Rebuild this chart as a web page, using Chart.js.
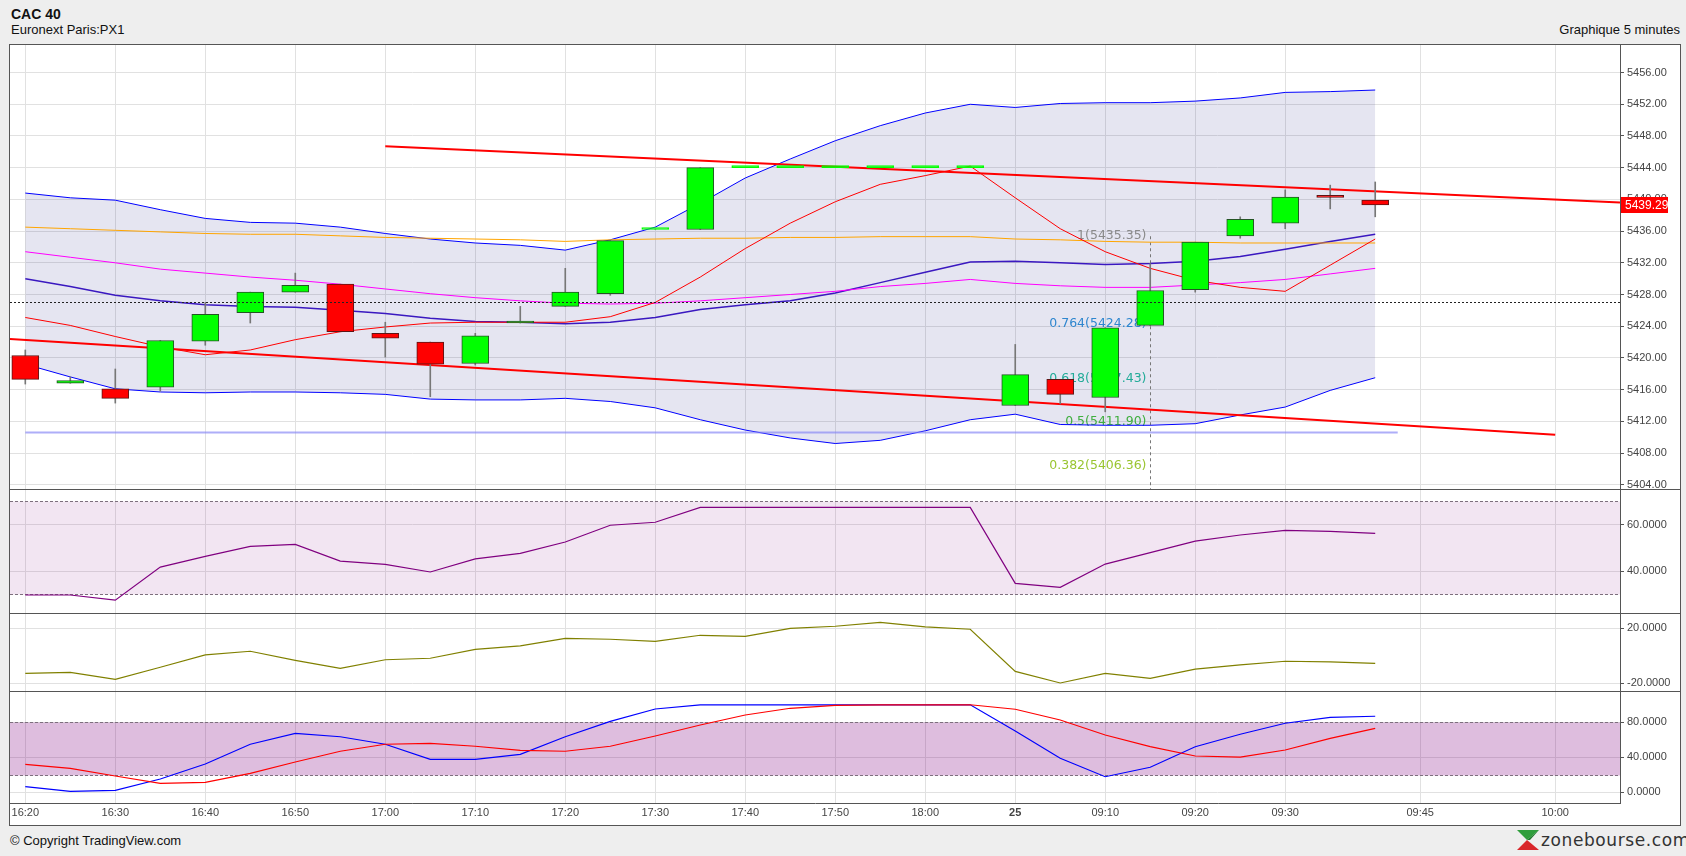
<!DOCTYPE html>
<html lang="fr">
<head>
<meta charset="utf-8">
<title>CAC 40 - Graphique 5 minutes</title>
<script src="https://cdn.jsdelivr.net/npm/chart.js@4.4.1/dist/chart.umd.min.js"></script>
<style>
  html, body { margin: 0; padding: 0; }
  body {
    width: 1686px; height: 856px; position: relative; overflow: hidden;
    background: #eeeeee; color: #111;
    font-family: "Liberation Sans", Arial, sans-serif;
  }
  .abs { position: absolute; }
  #title    { left: 11px; top: 6px;  font-size: 14px; font-weight: bold; }
  #exchange { left: 11px; top: 22px; font-size: 13px; }
  #period   { right: 6px; top: 22px; font-size: 13px; }
  #box { left: 9px; top: 44px; width: 1670px; height: 780px; border: 1px solid #555; background: #fff; }
  .sep { left: 10px; width: 1670px; height: 1px; background: #555; }
  canvas.pane { position: absolute; left: 10px; }
  #copy { left: 10px; top: 833px; font-size: 13px; }
  #logo { left: 1516px; top: 829px; display: flex; align-items: center; }
  #logo span { font-family: "DejaVu Sans", sans-serif; font-size: 17px; color: #333; letter-spacing: 0.6px; margin-left: 1px; }
</style>
</head>
<body>
<div class="abs" id="title">CAC 40</div>
<div class="abs" id="exchange">Euronext Paris:PX1</div>
<div class="abs" id="period">Graphique 5 minutes</div>

<div class="abs" id="box"></div>
<canvas class="pane" id="price" width="1670" height="444" style="top:45px"></canvas>
<div class="abs sep" style="top:489px"></div>
<canvas class="pane" id="rsi" width="1670" height="123" style="top:490px"></canvas>
<div class="abs sep" style="top:613px"></div>
<canvas class="pane" id="mom" width="1670" height="77" style="top:614px"></canvas>
<div class="abs sep" style="top:691px"></div>
<canvas class="pane" id="stoch" width="1670" height="133" style="top:692px"></canvas>

<div class="abs" id="copy">© Copyright TradingView.com</div>
<div class="abs" id="logo">
  <svg width="24" height="22" viewBox="0 0 24 22">
    <polygon points="1,1 23,1 11,11" fill="#2f9e3c"/>
    <polygon points="11,11 23,21 1,21" fill="#d9262b"/>
    <polygon points="23,1 11,11 14,11" fill="#1d7a2a"/>
  </svg>
  <span>zonebourse.com</span>
</div>

<script>
// ============================================================
// CAC 40 - 5 minute chart (price + RSI + momentum + stochastic)
// ============================================================

// ---------- X axis (bar index, 5 min per bar) ----------
const xTickIdx    = [0, 2, 4, 6, 8, 10, 12, 14, 16, 18, 20, 22, 24, 26, 28, 31, 34];
const xTickLabels = ["16:20", "16:30", "16:40", "16:50", "17:00", "17:10", "17:20", "17:30",
                     "17:40", "17:50", "18:00", "25", "09:10", "09:20", "09:30", "09:45", "10:00"];

// ---------- Candles ----------
const open  = [5420.3, 5416.8, 5416.1, 5416.3, 5422.1, 5425.7, 5428.3, 5429.3, 5423.1, 5422.0,
               5419.3, 5424.4, 5426.5, 5428.1, 5436.2, 5436.2, 5444.0, 5444.0, 5444.0, 5444.0,
               5444.0, 5444.0, 5414.0, 5417.3, 5415.0, 5424.1, 5428.6, 5435.4, 5437.0, 5440.5, 5439.9];
const close = [5417.3, 5417.15, 5414.9, 5422.2, 5425.5, 5428.3, 5429.15, 5423.3, 5422.5, 5419.2,
               5422.8, 5424.6, 5428.3, 5434.8, 5436.2, 5444.0, 5444.0, 5444.0, 5444.0, 5444.0,
               5444.0, 5444.0, 5417.9, 5415.4, 5423.8, 5428.5, 5434.6, 5437.5, 5440.3, 5440.25, 5439.29];
const high  = [5421.0, 5417.6, 5418.6, 5422.2, 5427.0, 5428.3, 5430.7, 5429.3, 5424.5, 5422.0,
               5423.1, 5426.5, 5431.3, 5434.8, 5436.2, 5444.0, 5444.0, 5444.0, 5444.0, 5444.0,
               5444.0, 5444.0, 5421.7, 5417.3, 5423.8, 5431.9, 5434.6, 5437.8, 5441.2, 5441.8, 5442.2];
const low   = [5416.7, 5416.8, 5414.3, 5415.8, 5421.6, 5424.4, 5428.3, 5423.3, 5420.1, 5415.1,
               5419.1, 5424.4, 5426.5, 5427.9, 5436.2, 5436.2, 5444.0, 5444.0, 5444.0, 5444.0,
               5444.0, 5444.0, 5414.0, 5414.2, 5413.2, 5424.1, 5428.3, 5435.1, 5436.3, 5438.8, 5437.8];

// ---------- Overlays ----------
const bbUpper  = [5440.8, 5440.2, 5439.9, 5438.7, 5437.6, 5437.1, 5437.0, 5436.5, 5435.7, 5435.0,
                  5434.5, 5434.2, 5433.6, 5434.9, 5436.5, 5439.5, 5442.7, 5445.1, 5447.4, 5449.3,
                  5450.9, 5452.0, 5451.6, 5452.1, 5452.2, 5452.2, 5452.4, 5452.8, 5453.5, 5453.6, 5453.8];
const bbMiddle = [5430.0, 5429.0, 5427.9, 5427.2, 5426.7, 5426.5, 5426.4, 5426.0, 5425.6, 5425.0,
                  5424.6, 5424.5, 5424.3, 5424.5, 5425.1, 5426.1, 5426.7, 5427.2, 5428.2, 5429.5,
                  5430.8, 5432.1, 5432.2, 5432.0, 5431.8, 5431.9, 5432.2, 5432.8, 5433.7, 5434.7, 5435.6];
const bbLower  = [5419.2, 5417.6, 5416.1, 5415.7, 5415.6, 5415.7, 5415.7, 5415.6, 5415.4, 5414.8,
                  5414.7, 5414.7, 5414.9, 5414.5, 5413.7, 5412.2, 5410.9, 5409.9, 5409.2, 5409.6,
                  5410.8, 5412.2, 5412.9, 5411.6, 5411.5, 5411.5, 5411.7, 5412.8, 5413.8, 5415.9, 5417.5];
const maOrange = [5436.5, 5436.3, 5436.1, 5435.9, 5435.7, 5435.6, 5435.6, 5435.4, 5435.2, 5435.1,
                  5435.0, 5434.9, 5434.7, 5434.9, 5435.0, 5435.1, 5435.1, 5435.2, 5435.2, 5435.3,
                  5435.3, 5435.3, 5435.0, 5434.9, 5434.7, 5434.6, 5434.6, 5434.5, 5434.5, 5434.5, 5434.5];
const maMagenta = [5433.4, 5432.7, 5432.0, 5431.2, 5430.7, 5430.2, 5429.8, 5429.3, 5428.7, 5428.1,
                   5427.6, 5427.2, 5426.9, 5426.8, 5426.9, 5427.2, 5427.6, 5428.0, 5428.4, 5429.0,
                   5429.4, 5429.9, 5429.4, 5429.1, 5428.9, 5428.9, 5429.2, 5429.5, 5429.9, 5430.6, 5431.3];
const maRed    = [5425.1, 5424.1, 5422.7, 5421.4, 5420.4, 5421.0, 5422.3, 5423.3, 5423.9, 5424.4,
                  5424.5, 5424.5, 5424.5, 5425.2, 5427.0, 5430.2, 5433.8, 5437.0, 5439.7, 5441.9,
                  5443.0, 5444.2, 5440.2, 5436.3, 5433.4, 5431.3, 5429.8, 5428.9, 5428.4, 5431.7, 5435.0];

// trend lines / levels: [bar index, price]
const trendTop    = [[8, 5446.7], [35.44, 5439.6]];
const trendBottom = [[-0.34, 5422.4], [34, 5410.3]];
const levelLine   = [[0, 5410.6], [30.5, 5410.6]];
const refPrice    = 5427.1;

const fibRatios = ["1", "0.764", "0.618", "0.5", "0.382"];
const fibPrices = [5435.35, 5424.28, 5417.43, 5411.90, 5406.36];
const fibAnchor = 25;

const priceTicks = [5404, 5408, 5412, 5416, 5420, 5424, 5428, 5432, 5436, 5440, 5444, 5448, 5452, 5456];

// ---------- Indicators ----------
const rsi = [29.7, 29.7, 27.5, 41.7, 46.3, 50.6, 51.5, 44.3, 42.9, 39.6, 45.2, 47.6, 52.5, 59.7, 61.0,
             67.4, 67.4, 67.4, 67.4, 67.4, 67.4, 67.4, 34.7, 33.0, 43.0, 47.9, 52.9, 55.5, 57.5, 57.1, 56.2];
const rsiTicks = [40, 60];
const rsiBand  = [30, 70];

const momentum = [-12.9, -12.2, -17.3, -8.5, 0.5, 3.2, -3.4, -9.3, -3.0, -1.9, 4.6, 7.1, 12.7, 12.0, 10.5,
                  14.9, 14.1, 20.0, 21.5, 24.4, 21.0, 19.3, -11.5, -20.0, -12.9, -16.6, -9.8, -6.8, -4.1, -4.6, -5.6];
const momTicks = [-20, 20];

const stochK = [6.4, 1.1, 2.3, 15.2, 32.3, 54.9, 67.4, 63.5, 54.9, 37.7, 37.7, 43.4, 63.5, 81.1, 95.2,
                100, 100, 100, 100, 100, 100, 100, 70.1, 38.9, 17.8, 28.6, 52.1, 66.3, 78.9, 85.7, 86.9];
const stochD = [32.0, 27.4, 18.6, 10.3, 11.4, 21.7, 34.6, 46.9, 54.9, 56.0, 52.6, 48.0, 46.9, 52.6, 64.3,
                76.9, 88.3, 96.0, 99.4, 100, 100, 100, 94.9, 82.6, 65.5, 52.1, 41.5, 40.3, 48.3, 61.7, 73.1];
const stochTicks = [0, 40, 80];
const stochBand  = [20, 80];

// ---------- Shared style ----------
const FONT = "Liberation Sans";
const GRID = "#e1e1e1";
const AXIS = "#555";
Chart.defaults.font.family = FONT;
Chart.defaults.color = "#444";

// ---------- Helpers: scales ----------
function xScale(showLabels) {
  return {
    type: "linear",
    min: -0.34,
    max: 35.44,
    offset: false,
    grid: { color: GRID, offset: false, drawTicks: false },
    border: { display: showLabels, color: AXIS },
    ticks: {
      display: showLabels,
      autoSkip: false,
      maxRotation: 0,
      padding: 3,
      color: "#444",
      font: (c) => ({ family: FONT, size: 11, weight: c.tick && c.tick.label === "25" ? "bold" : "normal" }),
      callback: (v) => xTickLabels[xTickIdx.indexOf(v)] ?? "",
    },
    afterBuildTicks: (s) => { s.ticks = xTickIdx.map((v) => ({ value: v })); },
    afterFit: (s) => { s.height = showLabels ? 22 : 0; s.paddingLeft = 0; s.paddingRight = 0; },
  };
}

function yScale(min, max, ticks, digits) {
  return {
    type: "linear",
    position: "right",
    min,
    max,
    grid: { color: GRID, tickColor: AXIS, tickLength: 4, drawTicks: true },
    border: { display: true, color: AXIS },
    ticks: { padding: 3, color: "#444", font: { family: FONT, size: 11 }, callback: (v) => Number(v).toFixed(digits) },
    afterBuildTicks: (s) => { s.ticks = ticks.map((v) => ({ value: v })); },
    afterFit: (s) => { s.width = 60; s.paddingTop = 0; s.paddingBottom = 0; },
  };
}

function line(values, color, width = 1) {
  return {
    type: "line",
    data: values.map((v, i) => ({ x: i, y: v })),
    borderColor: color,
    borderWidth: width,
    pointRadius: 0,
    tension: 0,
    fill: false,
  };
}

function segment(points, color, width) {
  return {
    type: "line",
    data: points.map(([x, y]) => ({ x, y })),
    borderColor: color,
    borderWidth: width,
    pointRadius: 0,
    fill: false,
  };
}

const baseOptions = {
  responsive: false,
  animation: false,
  events: [],
  layout: { padding: 0 },
  plugins: { legend: { display: false }, tooltip: { enabled: false }, filler: { drawTime: "beforeDatasetsDraw" } },
};

// ---------- Plugins: price pane ----------
const fibPlugin = {
  id: "fib",
  beforeDatasetsDraw(chart) {
    const { ctx, chartArea: a, scales: { x, y } } = chart;
    const fibColors = ["#8a8a8a", "#2e86cf", "#22ab98", "#3fae3f", "#9ac531"];
    const px = Math.round(x.getPixelForValue(fibAnchor)) + 0.5;
    ctx.save();
    ctx.strokeStyle = "#777";
    ctx.lineWidth = 1;
    ctx.setLineDash([3, 3]);
    ctx.beginPath();
    ctx.moveTo(px, y.getPixelForValue(fibPrices[0]));
    ctx.lineTo(px, a.bottom);
    ctx.stroke();
    ctx.font = "12.5px 'DejaVu Sans'";
    ctx.textAlign = "right";
    ctx.textBaseline = "middle";
    fibPrices.forEach((p, i) => {
      ctx.fillStyle = fibColors[i];
      ctx.fillText(`${fibRatios[i]}(${p.toFixed(2)})`, px - 4, y.getPixelForValue(p));
    });
    ctx.restore();
  },
};

const refLinePlugin = {
  id: "refLine",
  afterDatasetsDraw(chart) {
    const { ctx, chartArea: a, scales: { y } } = chart;
    const py = Math.round(y.getPixelForValue(refPrice)) + 0.5;
    ctx.save();
    ctx.strokeStyle = "#222";
    ctx.lineWidth = 1;
    ctx.setLineDash([2, 2]);
    ctx.beginPath();
    ctx.moveTo(a.left, py);
    ctx.lineTo(a.right, py);
    ctx.stroke();
    ctx.restore();
  },
};

const lastPricePlugin = {
  id: "lastPrice",
  afterDraw(chart) {
    const { ctx, chartArea: a, scales: { y } } = chart;
    const last = close[close.length - 1];
    const py = y.getPixelForValue(last);
    ctx.save();
    ctx.fillStyle = "#ff0000";
    ctx.fillRect(a.right + 1, Math.round(py) - 8, 47, 16);
    ctx.fillStyle = "#fff";
    ctx.font = `12px ${FONT}`;
    ctx.textBaseline = "middle";
    ctx.fillText(last.toFixed(2), a.right + 5, py + 0.5);
    ctx.restore();
  },
};

// ---------- Plugin: shaded indicator band ----------
function bandPlugin(range, color) {
  return {
    id: "band",
    beforeDatasetsDraw(chart) {
      const { ctx, chartArea: a, scales: { y } } = chart;
      const top = Math.round(y.getPixelForValue(range[1])) + 0.5;
      const bot = Math.round(y.getPixelForValue(range[0])) + 0.5;
      ctx.save();
      ctx.fillStyle = color;
      ctx.fillRect(a.left, top, a.right - a.left, bot - top);
      ctx.strokeStyle = "#7d6f7d";
      ctx.lineWidth = 1;
      ctx.setLineDash([3, 2]);
      [top, bot].forEach((py) => {
        ctx.beginPath();
        ctx.moveTo(a.left, py);
        ctx.lineTo(a.right, py);
        ctx.stroke();
      });
      ctx.restore();
    },
  };
}

// ---------- Price pane ----------
function renderPricePane() {
  const idx = open.map((_, i) => i);
  const up = idx.map((i) => close[i] >= open[i]);
  const flat = idx.map((i) => close[i] === open[i]);

  new Chart(document.getElementById("price"), {
    type: "bar",
    data: {
      datasets: [
        {
          data: idx.map((i) => ({ x: i, y: [open[i], close[i]] })),
          backgroundColor: idx.map((i) => (up[i] ? "#00ff00" : "#ff0000")),
          borderColor: idx.map((i) => (flat[i] ? "#00ff00" : up[i] ? "#245424" : "#5e1414")),
          borderWidth: 1,
          borderSkipped: false,
          barThickness: 27,
          minBarLength: 2,
          grouped: false,
        },
        {
          data: idx.map((i) => ({ x: i, y: [low[i], high[i]] })),
          backgroundColor: "#777",
          borderWidth: 0,
          barThickness: 1,
          grouped: false,
        },
        segment(trendTop, "#ff0000", 2),
        segment(trendBottom, "#ff0000", 2),
        line(maRed, "#ff0000"),
        line(maMagenta, "#ff00ff"),
        line(maOrange, "#ffa500"),
        line(bbMiddle, "#3a18c0", 1.5),
        segment(levelLine, "rgba(130,130,245,0.65)", 2),
        { ...line(bbUpper, "#0000ff"), fill: "+1", backgroundColor: "rgba(40,40,140,0.12)" },
        line(bbLower, "#0000ff"),
      ],
    },
    options: {
      ...baseOptions,
      scales: { x: xScale(false), y: yScale(5403.46, 5459.48, priceTicks, 2) },
    },
    plugins: [fibPlugin, refLinePlugin, lastPricePlugin],
  });
}

// ---------- Indicator panes ----------
function renderPane(canvasId, { min, max, ticks, datasets, band, showX }) {
  new Chart(document.getElementById(canvasId), {
    type: "line",
    data: { datasets },
    options: {
      ...baseOptions,
      scales: { x: xScale(showX), y: yScale(min, max, ticks, 4) },
    },
    plugins: band ? [bandPlugin(band.range, band.color)] : [],
  });
}

renderPricePane();

renderPane("rsi", {
  min: 21.96, max: 74.86, ticks: rsiTicks,
  datasets: [line(rsi, "#800080", 1.2)],
  band: { range: rsiBand, color: "rgba(128,0,128,0.10)" },
});

renderPane("mom", {
  min: -25.85, max: 30.46, ticks: momTicks,
  datasets: [line(momentum, "#808000", 1.2)],
});

renderPane("stoch", {
  min: -12.23, max: 114.6, ticks: stochTicks,
  datasets: [line(stochD, "#ff0000", 1.2), line(stochK, "#0000ff", 1.2)],
  band: { range: stochBand, color: "rgba(128,0,128,0.26)" },
  showX: true,
});
</script>
</body>
</html>
